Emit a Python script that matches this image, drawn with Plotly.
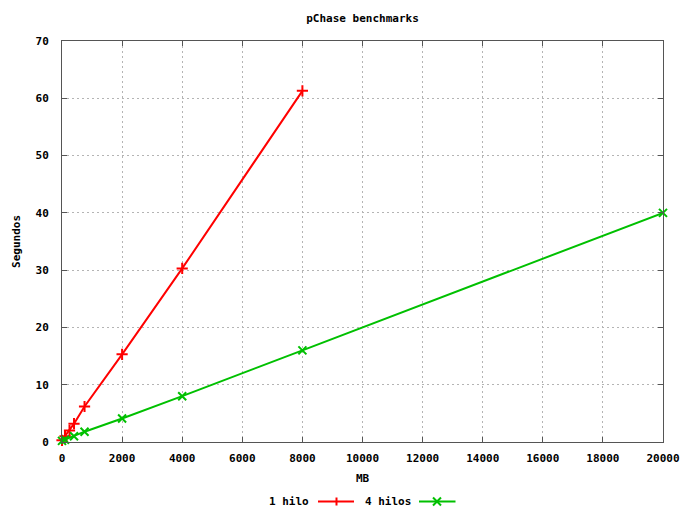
import plotly.graph_objects as go

mb_1 = [0, 100, 250, 400, 750, 2000, 4000, 8000]
seg_1 = [0.3, 1.0, 2.0, 3.2, 6.2, 15.3, 30.3, 61.3]
mb_4 = [0, 100, 400, 750, 2000, 4000, 8000, 20000]
seg_4 = [0.2, 0.4, 1.0, 1.8, 4.1, 8.0, 16.0, 40.0]
names = ["1 hilo", "4 hilos"]
colors = ["#ff0000", "#00c000"]
symbols = ["cross-thin", "x-thin"]

FONT = "DejaVu Sans Mono"
tf = dict(family=FONT, size=11, color="black", weight="bold")

XMAX, YMAX = 20000, 70

fig = go.Figure()
for xs, ys, nm, c, s in [(mb_1, seg_1, names[0], colors[0], symbols[0]),
                         (mb_4, seg_4, names[1], colors[1], symbols[1])]:
    fig.add_trace(go.Scatter(x=xs, y=ys, name=nm, mode="lines+markers",
                             line=dict(color=c, width=2),
                             marker=dict(symbol=s, size=8, line=dict(color=c, width=2), color=c),
                             cliponaxis=False, showlegend=False))

# custom gnuplot-style legend (text then sample)
W, H = 601, 401
def px(x):
    return (x - 62) / W
def py(y):
    return (442 - y) / H
ly = 501.5
leg = [(names[0], colors[0], "plus", 311, 318, 354, 336.5),
       (names[1], colors[1], "x", 413, 419, 455.5, 437)]
for i, (nm, c, s, tx_end, l0, l1, mx) in enumerate(leg):
    fig.add_annotation(x=px(tx_end), y=py(ly), xref="paper", yref="paper", text=nm,
                       showarrow=False, xanchor="right", yanchor="middle", font=tf)
    fig.add_shape(type="line", xref="paper", yref="paper", x0=px(l0), x1=px(l1),
                  y0=py(ly), y1=py(ly), line=dict(color=c, width=2))
    a = 4
    if s == "plus":
        segs = [(mx, ly - a, mx, ly + a)]
    else:
        segs = [(mx - a, ly - a, mx + a, ly + a), (mx - a, ly + a, mx + a, ly - a)]
    for (xa, ya, xb, yb) in segs:
        fig.add_shape(type="line", xref="paper", yref="paper", x0=px(xa), x1=px(xb),
                      y0=py(ya), y1=py(yb), line=dict(color=c, width=2))

axis_common = dict(showline=True, linecolor="#555555", linewidth=1, mirror="ticks",
                   ticks="inside", ticklen=5, tickcolor="#555555", tickwidth=1,
                   showgrid=True, gridcolor="#b4b4b4", griddash="2px,3px", gridwidth=1,
                   zeroline=False, tickfont=tf, tickformat="d", automargin=False)

fig.update_layout(
    width=685, height=508,
    margin=dict(l=62, r=22, t=41, b=66),
    plot_bgcolor="white", paper_bgcolor="white",
    title=dict(text="pChase benchmarks", x=px(362.5), xref="paper", xanchor="center",
               y=1 - 18 / 508, yanchor="middle", font=tf),
    xaxis=dict(range=[0, XMAX], dtick=2000, tick0=0, ticklabelstandoff=6, **axis_common,
               title=dict(text="MB", font=tf, standoff=10)),
    yaxis=dict(range=[0, YMAX], dtick=10, tick0=0, ticklabelstandoff=10, **axis_common,
               title=dict(text="Segundos", font=tf, standoff=12)),
    showlegend=False,
)

fig.write_html("out.html")
